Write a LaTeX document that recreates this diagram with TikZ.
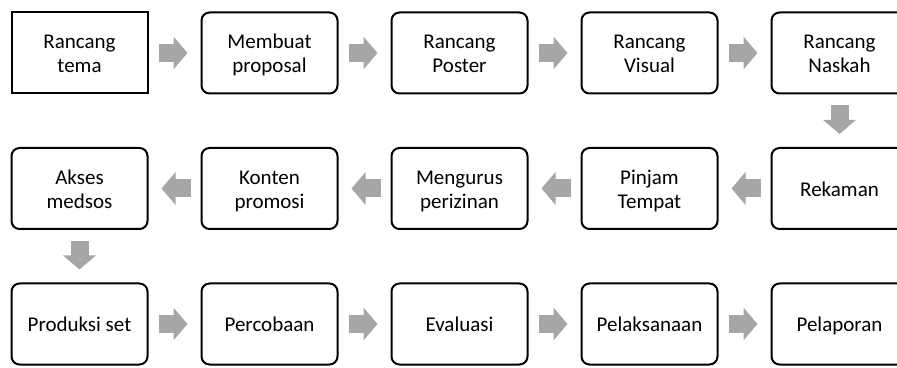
\documentclass[tikz,border=0pt]{standalone}
\usepackage{fontspec}
\setmainfont{Carlito}
\usetikzlibrary{arrows.meta}
\definecolor{arrowgray}{HTML}{A6A6A6}
\newcommand\lnstrut{\rule[-4pt]{0pt}{24pt}}
\tikzset{
  box/.style={draw=black, line width=2pt, rounded corners=8pt, minimum width=136pt, minimum height=81pt,
    inner sep=0pt, outer sep=0pt, align=center, font=\fontsize{21}{24}\selectfont, fill=white},
  sqbox/.style={box, rounded corners=0pt},
  flow/.style={draw=arrowgray, line width=18pt, -{Triangle[width=32pt,length=14pt]}, shorten <=11pt, shorten >=14pt},
}
\begin{document}
\begin{tikzpicture}[x=1pt,y=1pt]
\useasboundingbox (0,0) rectangle (897,367);
\clip (0,0) rectangle (897,367);
% row 1
\node[sqbox] (a1) at (79.5,314) {\lnstrut Rancang\\\lnstrut tema};
\node[box] (a2) at (269.5,314) {\lnstrut Membuat\\\lnstrut proposal};
\node[box] (a3) at (459.5,314) {\lnstrut Rancang\\\lnstrut Poster};
\node[box] (a4) at (649.5,314) {\lnstrut Rancang\\\lnstrut Visual};
\node[box] (a5) at (839.5,314) {\lnstrut Rancang\\\lnstrut Naskah};
% row 2
\node[box] (b1) at (79.5,178.5) {\lnstrut Akses\\\lnstrut medsos};
\node[box] (b2) at (269.5,178.5) {\lnstrut Konten\\\lnstrut promosi};
\node[box] (b3) at (459.5,178.5) {\lnstrut Mengurus\\\lnstrut perizinan};
\node[box] (b4) at (649.5,178.5) {\lnstrut Pinjam\\\lnstrut Tempat};
\node[box] (b5) at (839.5,178.5) {\lnstrut Rekaman};
% row 3
\node[box] (c1) at (79.5,43) {\lnstrut Produksi set};
\node[box] (c2) at (269.5,43) {\lnstrut Percobaan};
\node[box] (c3) at (459.5,43) {\lnstrut Evaluasi};
\node[box] (c4) at (649.5,43) {\lnstrut Pelaksanaan};
\node[box] (c5) at (839.5,43) {\lnstrut Pelaporan};
% arrows
\draw[flow] (a1) -- (a2);
\draw[flow] (a2) -- (a3);
\draw[flow] (a3) -- (a4);
\draw[flow] (a4) -- (a5);
\draw[flow, shorten <=12pt, shorten >=14pt] (a5) -- (b5);
\draw[flow] (b5) -- (b4);
\draw[flow] (b4) -- (b3);
\draw[flow] (b3) -- (b2);
\draw[flow] (b2) -- (b1);
\draw[flow, shorten <=12pt, shorten >=14pt] (b1) -- (c1);
\draw[flow] (c1) -- (c2);
\draw[flow] (c2) -- (c3);
\draw[flow] (c3) -- (c4);
\draw[flow] (c4) -- (c5);
\end{tikzpicture}
\end{document}
